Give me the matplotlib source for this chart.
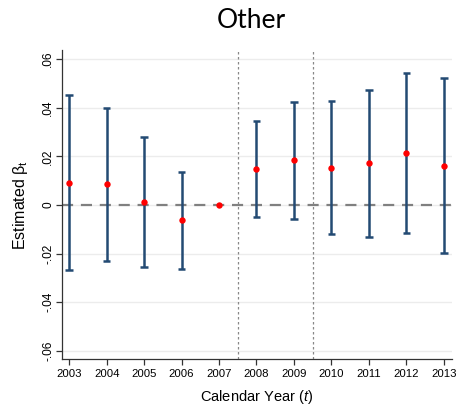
import matplotlib
matplotlib.use("Agg")
import matplotlib.pyplot as plt

plt.rcParams["mathtext.fontset"] = "custom"
plt.rcParams["mathtext.rm"] = "Liberation Sans"
plt.rcParams["mathtext.it"] = "Liberation Sans:italic"

years = [2003, 2004, 2005, 2006, 2007, 2008, 2009, 2010, 2011, 2012, 2013]
estimate = [0.0092, 0.0085, 0.0012, -0.0063, 0.0, 0.0147, 0.0183, 0.0153, 0.0172, 0.0213, 0.0162]
ci_upper = [0.0451, 0.0399, 0.0280, 0.0136, None, 0.0345, 0.0422, 0.0428, 0.0474, 0.0541, 0.0522]
ci_lower = [-0.0268, -0.0230, -0.0253, -0.0263, None, -0.0051, -0.0056, -0.0121, -0.0131, -0.0114, -0.0197]
period_breaks = [2007.5, 2009.5]
yticks = [-0.06, -0.04, -0.02, 0.0, 0.02, 0.04, 0.06]
ytick_labels = ["-.06", "-.04", "-.02", "0", ".02", ".04", ".06"]

fig = plt.figure(figsize=(4.57, 4.07), dpi=100)
ax = fig.add_axes([61.7 / 457, 1 - 359 / 407, (452 - 61.7) / 457, (359 - 50) / 407])

for y in yticks:
    ax.axhline(y, color="#ececec", lw=1.0, zorder=0)

ax.axhline(0, color="#808080", lw=1.6, ls=(0, (5, 3.5)), zorder=1)
for b in period_breaks:
    ax.axvline(b, color="#888888", lw=0.9, ls=(0, (2, 2)), zorder=1)

ci_years = [yr for yr, u in zip(years, ci_upper) if u is not None]
ci_up = [u for u in ci_upper if u is not None]
ci_lo = [l for l in ci_lower if l is not None]
ax.vlines(ci_years, ci_lo, ci_up, color="#234a73", lw=1.8, zorder=2)
ax.hlines(ci_up + ci_lo, [y - 0.1 for y in ci_years * 2], [y + 0.1 for y in ci_years * 2],
          color="#234a73", lw=1.8, zorder=2)
ax.plot(years, estimate, "o", color="#ff0000", ms=4.6, mec="none", zorder=3)

ax.set_xlim(2002.8, 2013.22)
ax.set_ylim(-0.0633, 0.0637)
ax.set_xticks(years)
ax.set_xticklabels([str(y) for y in years], fontsize=8.2, family="Liberation Sans")
ax.set_yticks(yticks)
ax.set_yticklabels(ytick_labels, rotation=90, va="center", fontsize=8.6, family="Liberation Sans")

for side in ["top", "right"]:
    ax.spines[side].set_visible(False)
for side in ["left", "bottom"]:
    ax.spines[side].set_color("#333333")
    ax.spines[side].set_linewidth(0.9)
ax.tick_params(axis="both", direction="out", length=4, width=0.9, color="#333333", pad=3)
ax.tick_params(axis="y", pad=1.5)

ax.set_xlabel("Calendar Year ($\\mathit{t}$)", fontsize=10.5, family="Liberation Sans", labelpad=7)
ax.set_ylabel("Estimated β$_\\mathregular{t}$", fontsize=11.5, family="Liberation Sans", labelpad=9)

fig.text(251.5 / 457, 1 - 20 / 407, "Other", ha="center", va="center", fontsize=19, family="Lato")

fig.savefig("out.png", dpi=100)
